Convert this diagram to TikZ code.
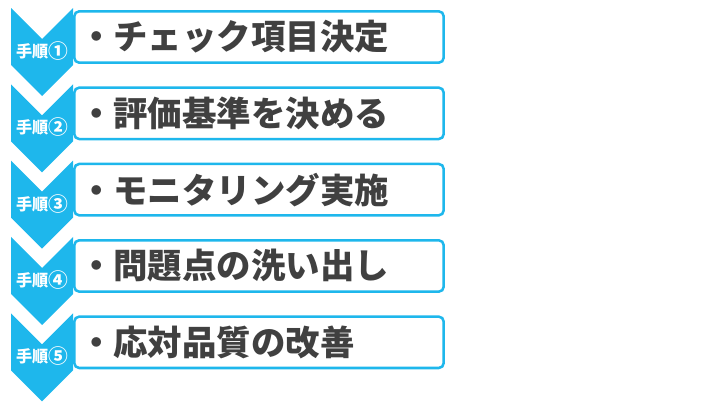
\documentclass[tikz,border=0pt]{standalone}
\usepackage{fontspec}
\usetikzlibrary{positioning}
\newfontfamily\jpfont{Noto Sans CJK JP}
\definecolor{Sky}{HTML}{1EB7EC}
\definecolor{Ink}{HTML}{404040}
\newcommand{\bignum}[1]{\raisebox{-0.06em}{\scalebox{1.22}{#1}}}
\tikzset{
  stepbox/.style={
    rounded corners=7pt, draw=Sky, line width=3.6pt, fill=white,
    minimum width=18.47cm, minimum height=2.57cm, text width=18cm,
    inner xsep=0.235cm, align=left, text=Ink,
    font=\jpfont\bfseries\fontsize{49}{52}\selectfont
  },
  steplabel/.style={
    text=white, inner sep=0pt,
    font=\jpfont\bfseries\fontsize{23}{26}\selectfont
  },
  chevron/.pic={
    \fill[Sky] (-62,-29) -- (-31,2) -- (0,-29) -- (0,28) -- (-31,59) -- (-62,28) -- cycle;
  }
}
\begin{document}
\begin{tikzpicture}[x=0.05cm, y=-0.05cm, node distance=1.12cm]
        \useasboundingbox (0,0) rectangle (720,405);
        \node[stepbox] (box1) at (259,37) {・チェック項目決定};
        \node[stepbox,below=of box1] (box2) {・評価基準を決める};
        \node[stepbox,below=of box2] (box3) {・モニタリング実施};
        \node[stepbox,below=of box3] (box4) {・問題点の洗い出し};
        \node[stepbox,below=of box4] (box5) {・応対品質の改善};
        % arrows on the left
        \pic at (box1.west) {chevron};
        \pic at (box2.west) {chevron};
        \pic at (box3.west) {chevron};
        \pic at (box4.west) {chevron};
        \pic at (box5.west) {chevron};
        \node[steplabel] (lab1) at ([shift={(-31,14)}]box1.west) {手順\bignum{①}};
        \node[steplabel] (lab2) at ([shift={(-31,14)}]box2.west) {手順\bignum{②}};
        \node[steplabel] (lab3) at ([shift={(-31,14)}]box3.west) {手順\bignum{③}};
        \node[steplabel] (lab4) at ([shift={(-31,14)}]box4.west) {手順\bignum{④}};
        \node[steplabel] (lab5) at ([shift={(-31,14)}]box5.west) {手順\bignum{⑤}};
      \end{tikzpicture}
\end{document}
